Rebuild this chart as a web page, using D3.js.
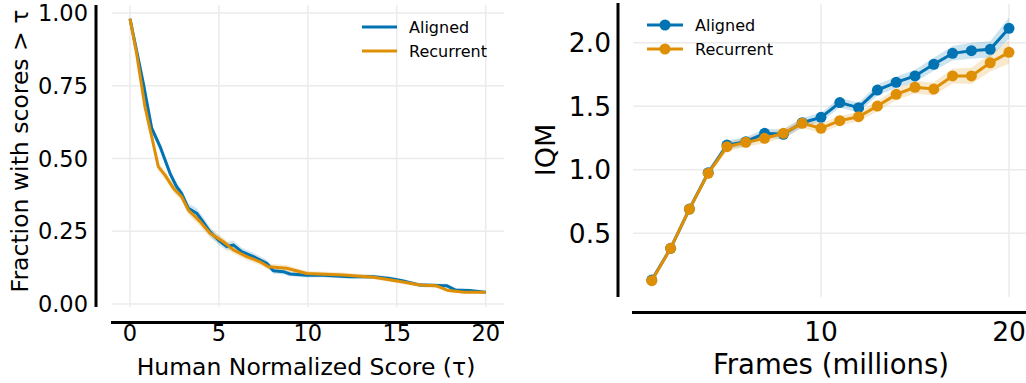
<!DOCTYPE html>
<html>
<head>
<meta charset="utf-8">
<script src="https://cdn.jsdelivr.net/npm/d3@7"></script>
<style>
body { margin:0; background:#fff; }
text { font-family:"DejaVu Sans", sans-serif; fill:#000; }
</style>
</head>
<body>
<div id="chart"></div>
<script>
// left panel: performance profiles
var tauAligned  = [0, 0.75, 1.22, 1.69, 2.25, 2.62, 2.9, 3.28, 3.75, 4.1, 4.5, 4.97, 5.44, 5.81, 6.28, 6.94, 7.69, 8.06, 8.62, 9.0, 9.94, 10.87, 12.37, 13.7, 14.6, 15.3, 16.3, 17.8, 18.3, 19.1, 20]
var fracAligned = [0.98, 0.758, 0.604, 0.541, 0.449, 0.403, 0.38, 0.329, 0.312, 0.283, 0.248, 0.22, 0.197, 0.203, 0.18, 0.163, 0.14, 0.114, 0.111, 0.103, 0.099, 0.099, 0.094, 0.094, 0.088, 0.08, 0.065, 0.063, 0.048, 0.046, 0.04]
var loAligned   = [0.975, 0.745, 0.59, 0.525, 0.435, 0.39, 0.365, 0.312, 0.295, 0.265, 0.232, 0.204, 0.183, 0.188, 0.168, 0.15, 0.128, 0.104, 0.101, 0.095, 0.091, 0.091, 0.087, 0.087, 0.081, 0.073, 0.058, 0.056, 0.043, 0.042, 0.038]
var hiAligned   = [0.985, 0.771, 0.618, 0.556, 0.463, 0.417, 0.395, 0.345, 0.33, 0.3, 0.264, 0.236, 0.212, 0.218, 0.193, 0.176, 0.152, 0.124, 0.121, 0.111, 0.107, 0.107, 0.101, 0.101, 0.095, 0.087, 0.072, 0.07, 0.054, 0.05, 0.042]

var tauRecurrent  = [0, 0.37, 0.84, 1.22, 1.59, 1.97, 2.44, 2.9, 3.28, 3.94, 4.5, 5.25, 5.81, 6.56, 7.31, 7.78, 8.81, 9.94, 12.0, 13.7, 15.19, 16.3, 17.2, 17.9, 18.8, 20]
var fracRecurrent = [0.98, 0.861, 0.678, 0.575, 0.472, 0.443, 0.398, 0.369, 0.323, 0.283, 0.243, 0.214, 0.186, 0.163, 0.145, 0.128, 0.123, 0.105, 0.1, 0.092, 0.077, 0.065, 0.063, 0.046, 0.04, 0.04]
var loRecurrent   = [0.975, 0.848, 0.664, 0.56, 0.457, 0.428, 0.383, 0.353, 0.307, 0.266, 0.228, 0.2, 0.173, 0.15, 0.133, 0.117, 0.112, 0.097, 0.092, 0.085, 0.07, 0.058, 0.056, 0.041, 0.036, 0.037]
var hiRecurrent   = [0.985, 0.874, 0.692, 0.59, 0.487, 0.458, 0.413, 0.385, 0.339, 0.3, 0.258, 0.228, 0.199, 0.176, 0.157, 0.139, 0.134, 0.113, 0.108, 0.099, 0.084, 0.072, 0.07, 0.051, 0.044, 0.043]

// right panel: IQM over training
var frames = [1, 2, 3, 4, 5, 6, 7, 8, 9, 10, 11, 12, 13, 14, 15, 16, 17, 18, 19, 20]
var iqmAligned   = [0.132, 0.382, 0.691, 0.977, 1.195, 1.221, 1.287, 1.28, 1.371, 1.413, 1.529, 1.489, 1.628, 1.689, 1.739, 1.831, 1.917, 1.938, 1.949, 2.114]
var iqmAlignedLo = [0.122, 0.37, 0.677, 0.958, 1.16, 1.185, 1.25, 1.243, 1.335, 1.378, 1.49, 1.45, 1.585, 1.645, 1.69, 1.78, 1.86, 1.875, 1.885, 2.03]
var iqmAlignedHi = [0.142, 0.394, 0.705, 0.996, 1.23, 1.257, 1.324, 1.317, 1.407, 1.448, 1.568, 1.528, 1.671, 1.733, 1.788, 1.882, 1.974, 2.001, 2.013, 2.2]
var iqmRecurrent   = [0.127, 0.382, 0.69, 0.972, 1.182, 1.216, 1.248, 1.287, 1.366, 1.327, 1.387, 1.418, 1.502, 1.594, 1.65, 1.636, 1.739, 1.739, 1.843, 1.925]
var iqmRecurrentLo = [0.117, 0.37, 0.676, 0.953, 1.147, 1.18, 1.21, 1.25, 1.33, 1.29, 1.35, 1.38, 1.46, 1.55, 1.6, 1.585, 1.68, 1.675, 1.775, 1.835]
var iqmRecurrentHi = [0.137, 0.394, 0.704, 0.991, 1.217, 1.252, 1.286, 1.324, 1.402, 1.364, 1.424, 1.456, 1.544, 1.638, 1.7, 1.687, 1.798, 1.803, 1.911, 2.015]

var legendNames = ["Aligned", "Recurrent"]
var colors = ["#0173b2", "#de8f05"]
var leftYTicks = [0, 0.25, 0.5, 0.75, 1.0]
var leftXTicks = [0, 5, 10, 15, 20]
var rightYTicks = [0.5, 1.0, 1.5, 2.0]
var rightXTicks = [10, 20]

var width = 1026, height = 383
var svg = d3.select("#chart").append("svg")
    .attr("width", width)
    .attr("height", height)

var grid = "#ebebeb"

// ---------- left panel ----------
var x1 = d3.scaleLinear().domain([0, 20]).range([130, 485.7])
var y1 = d3.scaleLinear().domain([0, 1]).range([304, 13])

var L = svg.append("g")

L.selectAll(".hg").data(leftYTicks).enter().append("line")
    .attr("x1", 112).attr("x2", 504)
    .attr("y1", function(d) { return y1(d) }).attr("y2", function(d) { return y1(d) })
    .attr("stroke", grid).attr("stroke-width", 1.5)
L.selectAll(".vg").data(leftXTicks).enter().append("line")
    .attr("y1", 5).attr("y2", 307)
    .attr("x1", function(d) { return x1(d) }).attr("x2", function(d) { return x1(d) })
    .attr("stroke", grid).attr("stroke-width", 1.5)

var leftSeries = [
  {tau: tauAligned, v: fracAligned, lo: loAligned, hi: hiAligned, c: colors[0]},
  {tau: tauRecurrent, v: fracRecurrent, lo: loRecurrent, hi: hiRecurrent, c: colors[1]}
]
leftSeries.forEach(function(s) {
  var idx = d3.range(s.tau.length)
  L.append("path")
    .attr("d", d3.area()
      .x(function(i) { return x1(s.tau[i]) })
      .y0(function(i) { return y1(s.lo[i]) })
      .y1(function(i) { return y1(s.hi[i]) })(idx))
    .attr("fill", s.c).attr("fill-opacity", 0.18)
})
leftSeries.forEach(function(s) {
  var idx = d3.range(s.tau.length)
  L.append("path")
    .attr("d", d3.line()
      .x(function(i) { return x1(s.tau[i]) })
      .y(function(i) { return y1(s.v[i]) })(idx))
    .attr("fill", "none").attr("stroke", s.c).attr("stroke-width", 3)
    .attr("stroke-linejoin", "round")
})

// spines (offset)
L.append("line").attr("x1", 96).attr("x2", 96).attr("y1", 5).attr("y2", 307)
  .attr("stroke", "#000").attr("stroke-width", 3)
L.append("line").attr("x1", 111).attr("x2", 504).attr("y1", 322.5).attr("y2", 322.5)
  .attr("stroke", "#000").attr("stroke-width", 3)

L.selectAll(".yt").data(leftYTicks).enter().append("text")
    .attr("x", 88).attr("y", function(d) { return y1(d) + 8 })
    .attr("text-anchor", "end").attr("font-size", 22.5)
    .text(d3.format(".2f"))
L.selectAll(".xt").data(leftXTicks).enter().append("text")
    .attr("x", function(d) { return x1(d) }).attr("y", 341)
    .attr("text-anchor", "middle").attr("font-size", 22.5)
    .text(function(d) { return d })

L.append("text").attr("x", 306).attr("y", 375)
  .attr("text-anchor", "middle").attr("font-size", 23.5)
  .text("Human Normalized Score (τ)")
L.append("text")
  .attr("transform", "translate(28,151) rotate(-90)")
  .attr("text-anchor", "middle").attr("font-size", 23.5)
  .text("Fraction with scores > τ")

var lg1 = L.selectAll(".lg").data(legendNames).enter().append("g")
  .attr("transform", function(d, i) { return "translate(0," + (27 + i * 24) + ")" })
lg1.append("line").attr("x1", 362).attr("x2", 397)
  .attr("stroke", function(d, i) { return colors[i] }).attr("stroke-width", 3)
lg1.append("text").attr("x", 409).attr("y", 6).attr("font-size", 16)
  .text(function(d) { return d })

// ---------- right panel ----------
var x2 = d3.scaleLinear().domain([10, 20]).range([821, 1009])
var y2 = d3.scaleLinear().domain([0, 2]).range([296.8, 42.8])

var R = svg.append("g")
R.selectAll(".hg").data(rightYTicks).enter().append("line")
    .attr("x1", 633).attr("x2", 1026)
    .attr("y1", function(d) { return y2(d) }).attr("y2", function(d) { return y2(d) })
    .attr("stroke", grid).attr("stroke-width", 1.5)
R.selectAll(".vg").data(rightXTicks).enter().append("line")
    .attr("y1", 4).attr("y2", 297)
    .attr("x1", function(d) { return x2(d) }).attr("x2", function(d) { return x2(d) })
    .attr("stroke", grid).attr("stroke-width", 1.5)

var rightSeries = [
  {v: iqmAligned, lo: iqmAlignedLo, hi: iqmAlignedHi, c: colors[0]},
  {v: iqmRecurrent, lo: iqmRecurrentLo, hi: iqmRecurrentHi, c: colors[1]}
]
rightSeries.forEach(function(s) {
  var idx = d3.range(frames.length)
  R.append("path")
    .attr("d", d3.area()
      .x(function(i) { return x2(frames[i]) })
      .y0(function(i) { return y2(s.lo[i]) })
      .y1(function(i) { return y2(s.hi[i]) })(idx))
    .attr("fill", s.c).attr("fill-opacity", 0.2)
})
rightSeries.forEach(function(s) {
  var idx = d3.range(frames.length)
  R.append("path")
    .attr("d", d3.line()
      .x(function(i) { return x2(frames[i]) })
      .y(function(i) { return y2(s.v[i]) })(idx))
    .attr("fill", "none").attr("stroke", s.c).attr("stroke-width", 3)
  R.selectAll(null).data(idx).enter().append("circle")
    .attr("cx", function(i) { return x2(frames[i]) })
    .attr("cy", function(i) { return y2(s.v[i]) })
    .attr("r", 5.5).attr("fill", s.c)
})

R.append("line").attr("x1", 618).attr("x2", 618).attr("y1", 3).attr("y2", 297)
  .attr("stroke", "#000").attr("stroke-width", 3)
R.append("line").attr("x1", 632).attr("x2", 1026).attr("y1", 312.5).attr("y2", 312.5)
  .attr("stroke", "#000").attr("stroke-width", 3)

R.selectAll(".yt").data(rightYTicks).enter().append("text")
    .attr("x", 611).attr("y", function(d) { return y2(d) + 9.5 })
    .attr("text-anchor", "end").attr("font-size", 26.5)
    .text(d3.format(".1f"))
R.selectAll(".xt").data(rightXTicks).enter().append("text")
    .attr("x", function(d) { return x2(d) }).attr("y", 341)
    .attr("text-anchor", "middle").attr("font-size", 26.5)
    .text(function(d) { return d })

R.append("text").attr("x", 831).attr("y", 374)
  .attr("text-anchor", "middle").attr("font-size", 27.5)
  .text("Frames (millions)")
R.append("text")
  .attr("transform", "translate(555,150) rotate(-90)")
  .attr("text-anchor", "middle").attr("font-size", 27)
  .text("IQM")

var lg2 = R.selectAll(".lg").data(legendNames).enter().append("g")
  .attr("transform", function(d, i) { return "translate(0," + (25 + i * 24) + ")" })
lg2.append("line").attr("x1", 647).attr("x2", 683)
  .attr("stroke", function(d, i) { return colors[i] }).attr("stroke-width", 3)
lg2.append("circle").attr("cx", 665).attr("r", 5.5)
  .attr("fill", function(d, i) { return colors[i] })
lg2.append("text").attr("x", 695).attr("y", 6).attr("font-size", 16)
  .text(function(d) { return d })
</script>
</body>
</html>
